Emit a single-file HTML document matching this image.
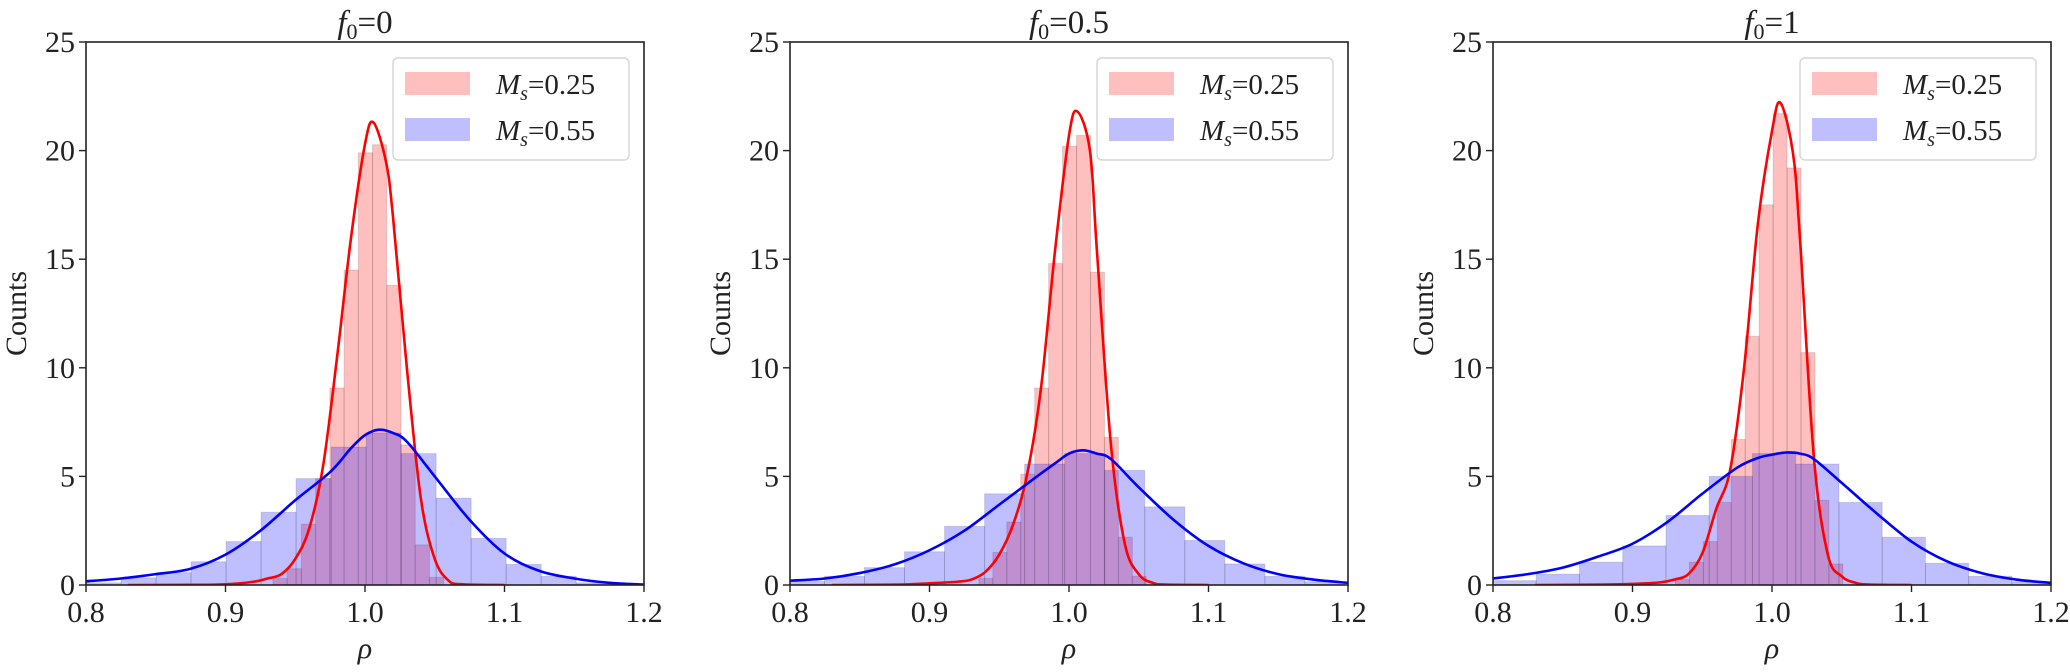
<!DOCTYPE html>
<html><head><meta charset="utf-8"><style>
body{margin:0;background:#fff;width:2070px;height:667px;overflow:hidden}
svg text{font-family:"Liberation Serif","DejaVu Serif",serif;fill:#222}
</style></head><body>
<svg id="fig" width="2070" height="667" xmlns="http://www.w3.org/2000/svg"></svg>
<script>
const titles = ["0", "0.5", "1"];
const xTicks = [0.8, 0.9, 1.0, 1.1, 1.2];
const xTickLabels = ["0.8", "0.9", "1.0", "1.1", "1.2"];
const yTicks = [0, 5, 10, 15, 20, 25];
const yTickLabels = ["0", "5", "10", "15", "20", "25"];
const legendLabels = ["0.25", "0.55"];
const redStart = [0.934, 0.9354, 0.9308];
const redWidth = [0.0102, 0.0100, 0.0100];
const blueStart = [0.8, 0.796, 0.8];
const blueWidth = [0.0251, 0.0287, 0.031];
const redCounts1 = [0.3, 0.75, 2.8, 4.9, 9.07, 14.5, 19.9, 20.27, 13.8, 6.45, 1.85, 0.35];
const redCounts2 = [0.3, 1.5, 2.9, 5.1, 9.07, 14.8, 20.2, 20.7, 14.4, 6.8, 2.2, 0.4];
const redCounts3 = [0.25, 1.05, 2.0, 3.8, 6.7, 11.45, 17.5, 21.7, 19.2, 10.7, 3.9, 0.97];
const blueCounts1 = [0.1, 0.33, 0.57, 1.07, 2.0, 3.35, 4.9, 6.35, 7.0, 6.05, 4.0, 2.15, 0.95, 0.4, 0.1];
const blueCounts2 = [0.16, 0.4, 0.8, 1.53, 2.7, 4.2, 5.57, 6.05, 5.28, 3.6, 2.05, 0.97, 0.4, 0.15];
const blueCounts3 = [0.2, 0.5, 1.05, 1.8, 3.2, 5.0, 6.05, 5.57, 3.8, 2.2, 1.0, 0.4, 0.15];
const redKdeX = [0.83, 0.88, 0.90, 0.92, 0.93, 0.94, 0.95, 0.96, 0.97, 0.98, 0.99, 1.0, 1.006, 1.015, 1.02, 1.03, 1.04, 1.05, 1.06, 1.07, 1.1];
const redKde1 = [0, 0.01, 0.03, 0.15, 0.3, 0.5, 1.2, 2.6, 5.5, 10.5, 16, 20.3, 21.3, 19.5, 17, 10, 4, 1.2, 0.2, 0.03, 0];
const redKde2 = [0, 0.02, 0.08, 0.15, 0.25, 0.6, 1.4, 2.8, 5.1, 9.1, 15.4, 20.7, 21.8, 20.0, 15.4, 6.5, 1.9, 0.5, 0.1, 0.02, 0];
const redKde3 = [0, 0.02, 0.05, 0.12, 0.25, 0.5, 1.45, 3.5, 5.3, 10, 16.7, 20.9, 22.2, 19.9, 16, 5.9, 1.4, 0.4, 0.1, 0.02, 0];
const blueKdeX = [0.8, 0.825, 0.85, 0.875, 0.9, 0.925, 0.95, 0.975, 0.99, 1.0, 1.01, 1.02, 1.03, 1.05, 1.075, 1.1, 1.125, 1.15, 1.175, 1.2];
const blueKde1 = [0.17, 0.3, 0.5, 0.75, 1.4, 2.5, 3.9, 5.2, 6.3, 6.9, 7.15, 7.0, 6.6, 5.0, 3.0, 1.45, 0.65, 0.3, 0.1, 0.02];
const blueKde2 = [0.2, 0.3, 0.55, 0.95, 1.6, 2.5, 3.7, 4.9, 5.6, 6.05, 6.2, 6.05, 5.8, 4.5, 3.0, 1.8, 1.0, 0.5, 0.25, 0.1];
const blueKde3 = [0.3, 0.5, 0.8, 1.3, 1.9, 2.9, 4.2, 5.4, 5.85, 6.0, 6.1, 6.05, 5.8, 4.7, 3.3, 2.0, 1.1, 0.55, 0.25, 0.1];

const redCounts = [redCounts1, redCounts2, redCounts3];
const blueCounts = [blueCounts1, blueCounts2, blueCounts3];
const redKdes = [redKde1, redKde2, redKde3];
const blueKdes = [blueKde1, blueKde2, blueKde3];

const NS = "http://www.w3.org/2000/svg";
const fig = document.getElementById("fig");
function mk(tag, attrs, parent) {
  const e = document.createElementNS(NS, tag);
  for (const k in attrs) e.setAttribute(k, attrs[k]);
  (parent || fig).appendChild(e);
  return e;
}
const lefts = [86, 790, 1493];
const W = 558, axTop = 42, axBottom = 585;
function smoothPath(pts) {
  let d = "M" + pts[0][0] + "," + pts[0][1];
  for (let i = 0; i < pts.length - 1; i++) {
    const p0 = pts[Math.max(0, i - 1)], p1 = pts[i], p2 = pts[i + 1], p3 = pts[Math.min(pts.length - 1, i + 2)];
    const c1x = p1[0] + (p2[0] - p0[0]) / 6, c1y = p1[1] + (p2[1] - p0[1]) / 6;
    const c2x = p2[0] - (p3[0] - p1[0]) / 6, c2y = p2[1] - (p3[1] - p1[1]) / 6;
    d += " C" + c1x + "," + c1y + " " + c2x + "," + c2y + " " + p2[0] + "," + p2[1];
  }
  return d;
}
for (let p = 0; p < 3; p++) {
  const L = lefts[p];
  const sx = v => L + (v - 0.8) / 0.4 * W;
  const sy = v => axBottom - v / 25 * (axBottom - axTop);
  const g = mk("g", {});
  
  
  const clipId = "clip" + p;
  const cp = mk("clipPath", {id: clipId}, g);
  mk("rect", {x: L, y: axTop, width: W, height: axBottom - axTop}, cp);
  const plot = mk("g", {"clip-path": "url(#" + clipId + ")"}, g);
  redCounts[p].forEach((c, i) => {
    const x0 = sx(redStart[p] + i * redWidth[p]), x1 = sx(redStart[p] + (i + 1) * redWidth[p]);
    const r = mk("rect", {x: x0, y: sy(c), width: x1 - x0, height: sy(0) - sy(c), fill: "rgba(255,0,0,0.25)", stroke: "rgba(0,0,0,0.12)", "stroke-width": 1}, plot);
    
    
  });
  blueCounts[p].forEach((c, i) => {
    const x0 = sx(blueStart[p] + i * blueWidth[p]), x1 = sx(blueStart[p] + (i + 1) * blueWidth[p]);
    const r = mk("rect", {x: x0, y: sy(c), width: x1 - x0, height: sy(0) - sy(c), fill: "rgba(0,0,255,0.25)", stroke: "rgba(0,0,0,0.12)", "stroke-width": 1}, plot);
    
    
  });
  const rp = mk("path", {d: smoothPath(redKdeX.map((x, i) => [sx(x), sy(redKdes[p][i])])), fill: "none", stroke: "#ff0000", "stroke-width": 2.6}, plot);
  
  
  const bp = mk("path", {d: smoothPath(blueKdeX.map((x, i) => [sx(x), sy(blueKdes[p][i])])), fill: "none", stroke: "#0000ff", "stroke-width": 2.6}, plot);
  
  
  const fr = mk("rect", {x: L, y: axTop, width: W, height: axBottom - axTop, fill: "none", stroke: "#222", "stroke-width": 1.6}, g);
  
  
  xTicks.forEach((t, i) => {
    mk("line", {x1: sx(t), x2: sx(t), y1: axBottom, y2: axBottom + 7, stroke: "#222", "stroke-width": 1.4}, g);
    const tx = mk("text", {x: sx(t), y: axBottom + 37, "font-size": 30, "text-anchor": "middle"}, g);
    tx.textContent = xTickLabels[i];
    
    
  });
  yTicks.forEach((t, i) => {
    mk("line", {x1: L - 7, x2: L, y1: sy(t), y2: sy(t), stroke: "#222", "stroke-width": 1.4}, g);
    const ty = mk("text", {x: L - 11, y: sy(t) + 10, "font-size": 30, "text-anchor": "end"}, g);
    ty.textContent = yTickLabels[i];
    
    
  });
  const xl = mk("text", {x: L + W / 2, y: 658, "font-size": 30, "font-style": "italic", "text-anchor": "middle"}, g);
  xl.textContent = "ρ";
  
  
  const yl = mk("text", {x: 0, y: 0, "font-size": 30, "text-anchor": "middle", transform: "translate(" + (L - 60) + "," + (axTop + (axBottom - axTop) / 2) + ") rotate(-90)"}, g);
  yl.textContent = "Counts";
  
  
  const tt = mk("text", {x: L + W / 2, y: 33, "font-size": 33, "text-anchor": "middle"}, g);
  tt.innerHTML = '<tspan font-style="italic">f</tspan><tspan font-size="22" dy="6">0</tspan><tspan dy="-6">=' + titles[p] + '</tspan>';
  
  
  const lg = mk("g", {}, g);
  
  
  const bx = L + W - 251;
  mk("rect", {x: bx, y: axTop + 16, width: 236, height: 102, rx: 5, fill: "rgba(255,255,255,0.85)", stroke: "#d6d6d6", "stroke-width": 1.4}, lg);
  const fills = ["rgba(255,0,0,0.25)", "rgba(0,0,255,0.25)"];
  legendLabels.forEach((lab, i) => {
    const ent = mk("g", {}, lg);
    
    
    mk("rect", {x: bx + 12, y: axTop + 30 + i * 46, width: 65, height: 23, fill: fills[i]}, ent);
    const t = mk("text", {x: bx + 103, y: axTop + 52 + i * 46, "font-size": 29}, ent);
    t.innerHTML = '<tspan font-style="italic">M</tspan><tspan font-style="italic" font-size="20" dy="6">s</tspan><tspan dy="-6">=' + lab + '</tspan>';
  });
}
</script>
</body></html>
